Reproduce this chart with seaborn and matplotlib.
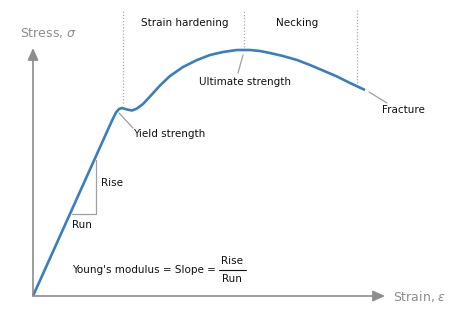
import matplotlib
matplotlib.use("Agg")
import matplotlib.pyplot as plt
import seaborn as sns
import pandas as pd

# Stress-strain curve (arbitrary units)
strain = [0.00, 0.77, 0.80, 0.83, 0.86, 0.89, 0.94, 0.99, 1.04, 1.10, 1.17,
          1.27, 1.37, 1.50, 1.64, 1.77, 1.90, 2.04, 2.17, 2.27, 2.37, 2.50,
          2.64, 2.77, 2.90, 3.04, 3.17, 3.32]
stress = [0.00, 1.71, 1.775, 1.835, 1.87, 1.88, 1.865, 1.855, 1.875, 1.92, 1.995,
          2.105, 2.20, 2.29, 2.36, 2.41, 2.44, 2.46, 2.46, 2.45, 2.43, 2.40,
          2.36, 2.31, 2.255, 2.195, 2.13, 2.06]

# Region boundaries (strain) and their top/bottom (stress)
boundary_x = [0.90, 2.11, 3.24]
boundary_bottom = [1.93, 2.49, 2.13]
boundary_top = 2.86

region_labels = ["Strain hardening", "Necking"]
region_label_x = [1.52, 2.64]

sns.set_theme(style="white")
plt.rcParams['font.family'] = ['DejaVu Sans']
plt.rcParams['mathtext.fontset'] = 'dejavusans'

fig = plt.figure(figsize=(4.59, 3.23), dpi=100)
ax = fig.add_axes([0, 0, 1, 1])
ax.set_xlim(-0.33, 4.26)
ax.set_ylim(-0.27, 2.96)
ax.axis("off")

axis_col = "#8c8c8c"
lead_col = "#a0a0a0"
fs = 7.5

# Axes arrows
arrow = dict(arrowstyle="-|>,head_length=0.6,head_width=0.27",
             color=axis_col, lw=1.2, shrinkA=0, shrinkB=0)
ax.annotate("", xy=(0, 2.48), xytext=(0, 0), arrowprops=arrow)
ax.annotate("", xy=(3.52, 0), xytext=(0, 0), arrowprops=arrow)
ax.text(-0.13, 2.63, r"Stress, $\sigma$", color=axis_col, fontsize=9,
        ha="left", va="center")
ax.text(3.60, -0.01, r"Strain, $\varepsilon$", color=axis_col, fontsize=9,
        ha="left", va="center")

# Region boundaries
for bx, bb in zip(boundary_x, boundary_bottom):
    ax.plot([bx, bx], [bb, boundary_top], color="#aaaaaa", lw=0.9,
            ls=(0, (1, 1.5)))
for lbl, lx in zip(region_labels, region_label_x):
    ax.text(lx, 2.73, lbl, fontsize=fs, ha="center", va="center", color="#111111")

# Curve
df = pd.DataFrame({"strain": strain, "stress": stress})
sns.lineplot(data=df, x="strain", y="stress", sort=False, ax=ax,
             color="#3a7ebf", lw=1.9, solid_capstyle="butt",
             solid_joinstyle="round")
ax.set_xlabel("")
ax.set_ylabel("")

# Rise / run triangle
ax.plot([0.63, 0.63, 0.39], [1.36, 0.82, 0.82], color=lead_col, lw=0.9)
ax.text(0.68, 1.13, "Rise", fontsize=fs, ha="left", va="center", color="#111111")
ax.text(0.39, 0.71, "Run", fontsize=fs, ha="left", va="center", color="#111111")

# Annotations
ax.plot([0.86, 1.00], [1.83, 1.68], color=lead_col, lw=0.9)
ax.text(1.00, 1.62, "Yield strength", fontsize=fs, ha="left", va="center", color="#111111")
ax.plot([2.10, 2.05], [2.41, 2.23], color=lead_col, lw=0.9)
ax.text(1.66, 2.14, "Ultimate strength", fontsize=fs, ha="left", va="center", color="#111111")
ax.plot([3.36, 3.54], [2.04, 1.93], color=lead_col, lw=0.9)
ax.text(3.49, 1.86, "Fracture", fontsize=fs, ha="left", va="center", color="#111111")

# Young's modulus formula
ax.text(0.39, 0.26, "Young's modulus = Slope =", fontsize=fs, ha="left",
        va="center", color="#111111")
ax.text(1.99, 0.345, "Rise", fontsize=fs, ha="center", va="center", color="#111111")
ax.plot([1.86, 2.13], [0.26, 0.26], color="#111111", lw=0.8)
ax.text(1.99, 0.175, "Run", fontsize=fs, ha="center", va="center", color="#111111")

fig.savefig("out.png", dpi=100)
